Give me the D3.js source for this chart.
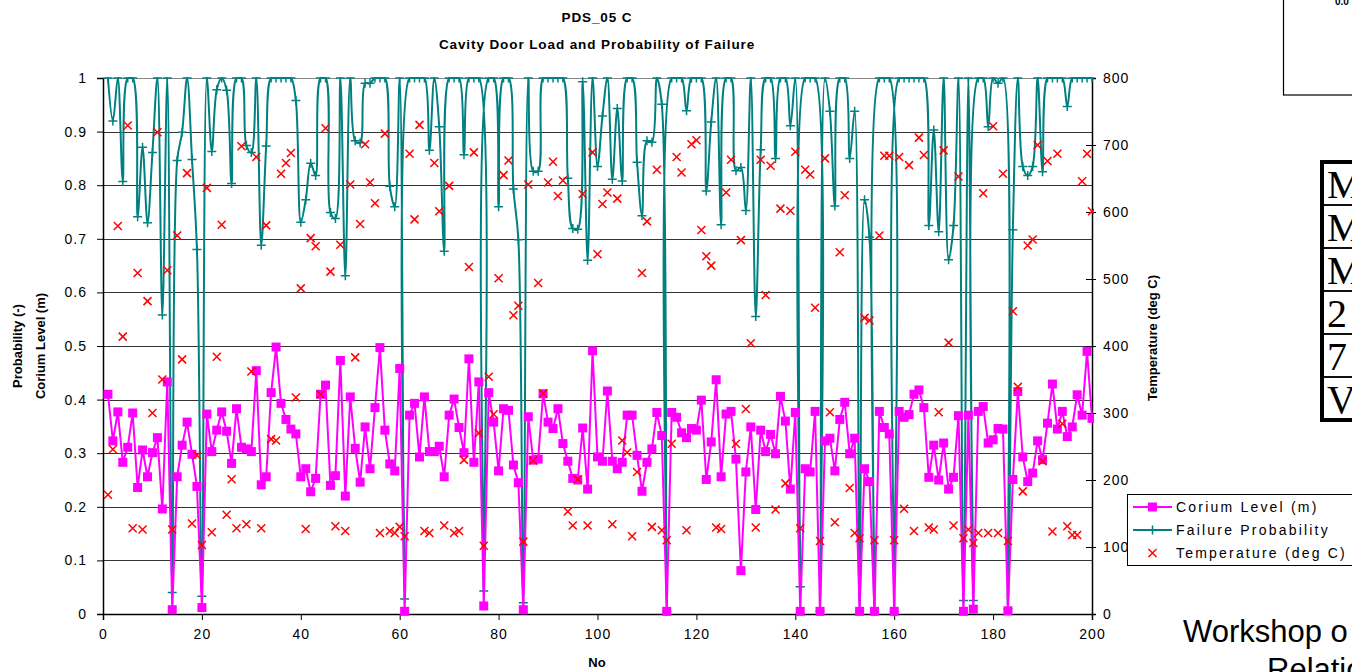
<!DOCTYPE html>
<html>
<head>
<meta charset="UTF-8" />
<title>PDS_05 C</title>
<script src="https://d3js.org/d3.v7.min.js"></script>
<style>
  body { margin: 0; background: #fff; }
  text { font-family: Arial, "Liberation Sans", sans-serif; fill: #000; }
  .tick text { font-size: 14px; letter-spacing: 1px; }
  .title { font-size: 13.5px; font-weight: bold; letter-spacing: 0.9px; }
  .axtitle { font-size: 13px; font-weight: bold; }
  .legend text { font-size: 14px; letter-spacing: 2.2px; }
</style>
</head>
<body>
<div id="chart"></div>
<script>
// chart data (No = 1..200)
var corium = [
  0.41, 0.323, 0.377, 0.283, 0.311, 0.375, 0.236, 0.306, 0.256, 0.301,
  0.329, 0.196, 0.433, 0.008, 0.256, 0.315, 0.358, 0.298, 0.238, 0.012,
  0.373, 0.303, 0.343, 0.377, 0.341, 0.281, 0.383, 0.311, 0.308, 0.303,
  0.454, 0.241, 0.256, 0.413, 0.498, 0.393, 0.363, 0.345, 0.336, 0.256,
  0.271, 0.228, 0.253, 0.41, 0.427, 0.24, 0.258, 0.473, 0.22, 0.405,
  0.309, 0.246, 0.349, 0.271, 0.385, 0.497, 0.343, 0.28, 0.267, 0.458,
  0.005, 0.371, 0.393, 0.293, 0.405, 0.303, 0.303, 0.313, 0.256, 0.371,
  0.401, 0.348, 0.301, 0.476, 0.283, 0.433, 0.015, 0.413, 0.358, 0.267,
  0.383, 0.38, 0.278, 0.245, 0.008, 0.368, 0.287, 0.289, 0.411, 0.358,
  0.346, 0.383, 0.318, 0.285, 0.253, 0.25, 0.347, 0.233, 0.491, 0.293,
  0.285, 0.416, 0.285, 0.271, 0.283, 0.371, 0.371, 0.296, 0.229, 0.283,
  0.308, 0.376, 0.333, 0.005, 0.376, 0.367, 0.338, 0.329, 0.346, 0.343,
  0.399, 0.251, 0.321, 0.437, 0.256, 0.373, 0.378, 0.289, 0.081, 0.265,
  0.349, 0.195, 0.343, 0.303, 0.335, 0.299, 0.406, 0.36, 0.233, 0.376,
  0.005, 0.271, 0.265, 0.378, 0.005, 0.323, 0.328, 0.267, 0.363, 0.395,
  0.299, 0.328, 0.005, 0.271, 0.247, 0.005, 0.378, 0.348, 0.336, 0.005,
  0.378, 0.367, 0.372, 0.41, 0.418, 0.385, 0.255, 0.315, 0.25, 0.319,
  0.233, 0.255, 0.37, 0.005, 0.371, 0.009, 0.378, 0.387, 0.319, 0.325,
  0.346, 0.345, 0.006, 0.251, 0.415, 0.293, 0.247, 0.263, 0.323, 0.288,
  0.356, 0.429, 0.345, 0.378, 0.331, 0.349, 0.409, 0.371, 0.49, 0.365
];

var failure = [
  1, 0.92, 1, 0.807, 1, 1, 0.741, 0.871, 0.73, 0.861,
  1, 0.558, 1, 0.04, 0.846, 0.899, 1, 0.848, 0.68, 0.033,
  1, 0.863, 0.978, 1, 0.977, 0.803, 1, 1, 0.874, 0.861,
  1, 0.688, 0.873, 1, 1, 1, 1, 1, 0.958, 0.731,
  0.773, 0.841, 0.818, 1, 1, 0.749, 0.738, 1, 0.631, 1,
  0.883, 0.879, 0.99, 0.99, 1, 1, 1, 0.798, 0.76, 1,
  0.028, 1, 1, 1, 1, 0.865, 1, 0.909, 0.677, 1,
  1, 1, 0.857, 1, 1, 1, 0.043, 1, 1, 0.76,
  1, 1, 0.793, 0.698, 0.021, 1, 0.826, 0.826, 1, 1,
  1, 1, 1, 0.813, 0.719, 0.718, 0.993, 0.66, 1, 0.835,
  0.929, 1, 0.811, 0.943, 0.808, 1, 1, 0.843, 0.743, 0.883,
  0.88, 1, 0.951, 0.005, 1, 1, 1, 0.939, 1, 1,
  1, 0.789, 0.918, 1, 0.726, 1, 1, 0.827, 0.833, 0.753,
  1, 0.555, 0.866, 1, 1, 0.85, 1, 1, 0.911, 1,
  0.051, 1, 1, 1, 0.005, 1, 0.938, 0.761, 1, 1,
  0.85, 0.938, 0.005, 0.773, 0.703, 0.005, 1, 1, 1, 0.005,
  1, 1, 1, 1, 1, 1, 0.725, 0.903, 0.713, 1,
  0.661, 0.725, 1, 0.025, 1, 0.025, 1, 1, 0.909, 1,
  0.99, 1, 0.01, 0.717, 1, 0.835, 0.818, 0.835, 1, 0.825,
  1, 1, 1, 1, 0.947, 1, 1, 1, 1, 1
];

var temperature = [
  178, 246, 579, 414, 729, 128, 509, 126, 467, 300,
  719, 350, 513, 126, 565, 380, 658, 135, 237, 103,
  636, 122, 384, 581, 148, 201, 128, 698, 134, 362,
  682, 128, 580, 261, 259, 657, 673, 688, 323, 486,
  127, 561, 549, 328, 725, 511, 131, 551, 124, 641,
  383, 582, 701, 644, 613, 121, 717, 124, 121, 130,
  116, 687, 589, 730, 124, 121, 673, 601, 132, 639,
  121, 124, 230, 518, 689, 270, 102, 354, 298, 501,
  655, 677, 446, 460, 108, 641, 229, 494, 329, 644,
  675, 624, 647, 153, 132, 201, 627, 132, 689, 537,
  612, 629, 134, 620, 259, 241, 116, 212, 509, 586,
  130, 663, 125, 110, 254, 682, 659, 125, 701, 707,
  573, 534, 520, 129, 127, 629, 678, 254, 558, 306,
  404, 129, 678, 476, 669, 156, 605, 195, 602, 690,
  128, 663, 656, 457, 109, 680, 301, 137, 540, 625,
  188, 121, 113, 442, 438, 110, 565, 684, 684, 110,
  682, 157, 670, 124, 711, 685, 129, 126, 301, 692,
  405, 132, 653, 113, 126, 106, 121, 628, 121, 728,
  121, 657, 109, 452, 339, 183, 550, 559, 700, 228,
  676, 123, 687, 284, 131, 118, 118, 646, 687, 601
];

var xTicks = d3.range(0, 201, 20);
var leftTicks = d3.range(0, 11).map(function(d) { return d / 10; });
var rightTicks = d3.range(0, 801, 100);
var legendLabels = ["Corium Level (m)", "Failure Probability", "Temperature (deg C)"];
var tableRows = ["M", "M", "M", "2", "7", "V"];

var W = 1352, H = 672;
var margin = {top: 78, right: 260, bottom: 58, left: 103};
var width = 1092 - margin.left,
    height = 614 - margin.top;

var x = d3.scaleLinear().domain([0, 200]).range([0, width]);
var y = d3.scaleLinear().domain([0, 1]).range([height, 0]);
var y2 = d3.scaleLinear().domain([0, 800]).range([height, 0]);

var svg = d3.select("#chart").append("svg")
    .attr("width", W)
    .attr("height", H);

var g = svg.append("g")
    .attr("transform", "translate(" + margin.left + "," + margin.top + ")");

g.append("clipPath").attr("id", "plotclip")
  .append("rect").attr("x", -2).attr("y", -1).attr("width", width + 4).attr("height", height + 3);

// horizontal gridlines
g.append("g").selectAll("line")
  .data(leftTicks.slice(1))
  .enter().append("line")
  .attr("x1", 0).attr("x2", width)
  .attr("y1", function(d) { return Math.round(y(d)) + 0.5; })
  .attr("y2", function(d) { return Math.round(y(d)) + 0.5; })
  .attr("stroke", function(d) { return d === 1 ? "#888" : "#333"; })
  .attr("stroke-width", 1);

// axes
var fmt = function(d) { return (d === 0 || d === 1) ? String(d) : d.toFixed(1); };

var yAxis = g.append("g")
  .call(d3.axisLeft(y).tickValues(leftTicks).tickFormat(fmt).tickSize(6).tickPadding(10));

var xAxis = g.append("g")
  .attr("transform", "translate(0," + height + ")")
  .call(d3.axisBottom(x).tickValues(xTicks).tickSize(6).tickPadding(9));

var y2Axis = g.append("g")
  .attr("transform", "translate(" + width + ",0)")
  .call(d3.axisRight(y2).tickValues(rightTicks).tickSize(4).tickPadding(7));

y2Axis.selectAll(".tick line").attr("x1", -6);

[yAxis, xAxis, y2Axis].forEach(function(a) {
  a.select(".domain").attr("stroke", "#000").attr("stroke-width", 1.5);
  a.selectAll(".tick line").attr("stroke", "#000");
  a.selectAll(".tick text").attr("fill", "#000");
});

// series
var idx = d3.range(1, 201);
var plot = g.append("g").attr("clip-path", "url(#plotclip)");

var lineC = d3.line()
  .x(function(d) { return x(d); })
  .y(function(d) { return y(corium[d - 1]); });

var lineF = d3.line()
  .curve(d3.curveCatmullRom.alpha(0.5))
  .x(function(d) { return x(d); })
  .y(function(d) { return y(failure[d - 1]); });

plot.append("path")
  .attr("d", lineF(idx))
  .attr("fill", "none")
  .attr("stroke", "#008080")
  .attr("stroke-width", 2);

plot.append("g").selectAll("path")
  .data(idx).enter().append("path")
  .attr("d", function(d) {
    var cx = x(d), cy = y(failure[d - 1]);
    return "M" + (cx - 4.5) + "," + cy + "H" + (cx + 4.5) + "M" + cx + "," + (cy - 4.5) + "V" + (cy + 4.5);
  })
  .attr("stroke", "#008080")
  .attr("stroke-width", 1.5);

plot.append("path")
  .attr("d", lineC(idx))
  .attr("fill", "none")
  .attr("stroke", "#ff00ff")
  .attr("stroke-width", 2);

plot.append("g").selectAll("rect")
  .data(idx).enter().append("rect")
  .attr("x", function(d) { return x(d) - 4.5; })
  .attr("y", function(d) { return y(corium[d - 1]) - 4.5; })
  .attr("width", 9).attr("height", 9)
  .attr("fill", "#ff00ff");

plot.append("g").selectAll("path")
  .data(idx).enter().append("path")
  .attr("d", function(d) {
    var cx = x(d), cy = y2(temperature[d - 1]), s = 4;
    return "M" + (cx - s) + "," + (cy - s) + "L" + (cx + s) + "," + (cy + s) +
           "M" + (cx - s) + "," + (cy + s) + "L" + (cx + s) + "," + (cy - s);
  })
  .attr("stroke", "#ff0000")
  .attr("stroke-width", 1.5);

// titles
svg.append("text").attr("class", "title")
  .attr("x", 597).attr("y", 22).attr("text-anchor", "middle")
  .text("PDS_05 C");
svg.append("text").attr("class", "title")
  .attr("x", 597).attr("y", 49).attr("text-anchor", "middle")
  .text("Cavity Door Load and Probability of Failure");

svg.append("text").attr("class", "axtitle")
  .attr("x", 597).attr("y", 667).attr("text-anchor", "middle")
  .text("No");

svg.append("text").attr("class", "axtitle")
  .attr("transform", "translate(22,346) rotate(-90)")
  .attr("text-anchor", "middle")
  .text("Probability (-)");
svg.append("text").attr("class", "axtitle")
  .attr("transform", "translate(45,346) rotate(-90)")
  .attr("text-anchor", "middle")
  .text("Corium Level (m)");
svg.append("text").attr("class", "axtitle")
  .attr("transform", "translate(1157,338) rotate(-90)")
  .attr("text-anchor", "middle")
  .text("Temperature (deg C)");

// legend
var lg = svg.append("g").attr("class", "legend");
lg.append("rect")
  .attr("x", 1127.5).attr("y", 494.5).attr("width", 240).attr("height", 71)
  .attr("fill", "#fff").attr("stroke", "#000");

var rowY = [507, 530, 553];
lg.append("line").attr("x1", 1133).attr("x2", 1172).attr("y1", rowY[0]).attr("y2", rowY[0])
  .attr("stroke", "#ff00ff").attr("stroke-width", 2);
lg.append("rect").attr("x", 1148).attr("y", rowY[0] - 4.5).attr("width", 9).attr("height", 9)
  .attr("fill", "#ff00ff");
lg.append("line").attr("x1", 1133).attr("x2", 1172).attr("y1", rowY[1]).attr("y2", rowY[1])
  .attr("stroke", "#008080").attr("stroke-width", 2);
lg.append("path").attr("d", "M1148,530H1157M1152.5,525.5V534.5")
  .attr("stroke", "#008080").attr("stroke-width", 1.5);
lg.append("path").attr("d", "M1148.5,549L1156.5,557M1148.5,557L1156.5,549")
  .attr("stroke", "#ff0000").attr("stroke-width", 1.5);

lg.selectAll("text.lt")
  .data(legendLabels).enter().append("text")
  .attr("class", "lt")
  .attr("x", 1176)
  .attr("y", function(d, i) { return rowY[i] + 5; })
  .text(function(d) { return d; });

// slide fragments on the right
svg.append("rect")
  .attr("x", 1283.5).attr("y", -5).attr("width", 80).attr("height", 100)
  .attr("fill", "none").attr("stroke", "#000").attr("stroke-width", 1.2);
svg.append("text")
  .attr("x", 1335).attr("y", 5)
  .style("font-size", "10px").style("font-weight", "bold")
  .text("0.0");

var rowH = 43;
var tb = svg.append("g");
tb.selectAll("rect")
  .data(tableRows).enter().append("rect")
  .attr("x", 1322).attr("y", function(d, i) { return 162 + i * rowH; })
  .attr("width", 60).attr("height", rowH)
  .attr("fill", "none").attr("stroke", "#000").attr("stroke-width", 1.5);
tb.append("rect")
  .attr("x", 1322).attr("y", 162).attr("width", 60).attr("height", rowH * tableRows.length)
  .attr("fill", "none").attr("stroke", "#000").attr("stroke-width", 4);
tb.selectAll("text")
  .data(tableRows).enter().append("text")
  .attr("x", 1327).attr("y", function(d, i) { return 162 + i * rowH + 36; })
  .style("font-family", "'Liberation Serif', 'Times New Roman', serif")
  .style("font-size", "40px")
  .text(function(d) { return d; });

svg.append("text")
  .attr("x", 1183).attr("y", 642)
  .style("font-size", "31px")
  .text("Workshop o");
svg.append("text")
  .attr("x", 1267).attr("y", 680)
  .style("font-size", "31px")
  .text("Relatio");
</script>
</body>
</html>
